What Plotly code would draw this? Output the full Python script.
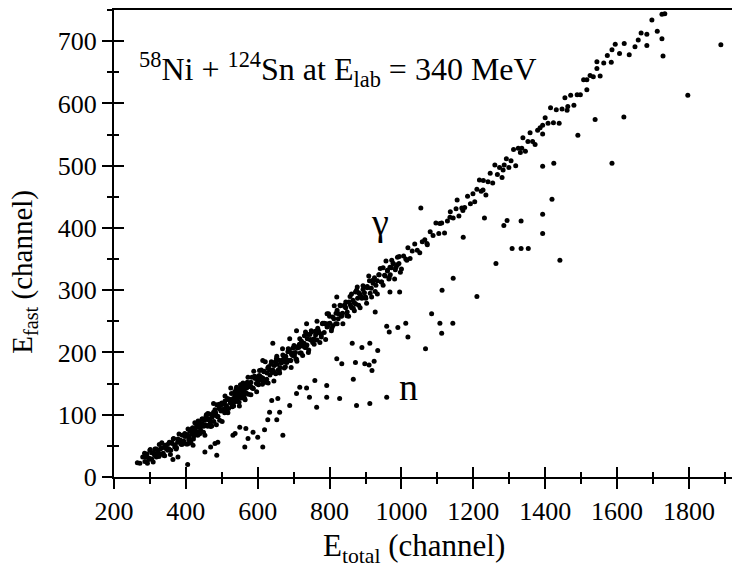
"""
plot.py
E_fast vs E_total scatter for 58Ni + 124Sn at 340 MeV (gamma / neutron separation).
"""

import plotly.graph_objects as go

# --- gamma band in segments ---
gx1 = [265, 272, 280, 286, 292, 298, 300, 305, 310, 314, 318, 322, 326, 330, 334, 338, 342, 346, 350, 354,
       358, 362, 366, 370, 374, 378, 382, 386, 390, 394, 398]
gy1 = [23, 22, 32, 25, 37, 30, 43, 29, 39, 45, 32, 41, 52, 37, 47, 35, 51, 45, 43, 56,
       43, 54, 62, 51, 47, 61, 58, 53, 67, 58, 65]

gx2 = [401, 404, 406, 409, 411, 414, 417, 419, 422, 425, 427, 430, 433, 435, 438, 441, 443, 446, 449, 452,
       454, 457, 460, 462, 465, 468, 470, 473, 476, 478, 481, 484, 486, 489, 492, 494, 497, 500, 503, 505,
       508, 511, 513, 516, 519, 521, 524, 527, 529, 532, 535, 537, 540, 543, 545, 548, 551, 553, 556, 559,
       562, 565, 568, 571, 574, 577, 580, 584, 588, 593]
gy2 = [53, 68, 77, 63, 74, 55, 70, 79, 66, 87, 73, 80, 67, 80, 87, 75, 81, 93, 72, 91,
       84, 100, 82, 92, 101, 89, 83, 99, 99, 89, 108, 99, 116, 97, 110, 91, 108, 119, 107, 118,
       103, 114, 110, 126, 110, 124, 119, 134, 113, 126, 134, 121, 141, 128, 137, 120, 140, 131, 127, 151,
       139, 144, 135, 152, 133, 148, 146, 160, 142, 158]

gx3 = [402, 408, 413, 418, 424, 429, 434, 439, 445, 451, 456, 461, 467, 472, 477, 483, 488, 493, 498,
       504, 509, 515, 520, 526, 531, 536, 542, 547, 552, 558, 563, 569, 575, 581, 586, 591, 596, 599]
gy3 = [68, 60, 57, 78, 75, 71, 90, 70, 86, 82, 97, 82, 93, 82, 104, 103, 97, 117, 106,
       107, 122, 105, 124, 122, 115, 137, 124, 134, 148, 135, 127, 149, 145, 152, 143, 162, 150, 158]

gx4 = [602, 606, 610, 614, 618, 622, 626, 630, 634, 638, 642, 646, 650, 654, 658, 662, 666, 670, 674, 678,
       682, 686, 690, 694, 698, 702, 706, 710, 714, 718, 722, 726, 730, 734, 738, 742, 746, 750, 755, 760,
       765, 770, 775, 780, 785, 790, 795, 800, 806, 812, 818, 824, 830, 836, 842, 848, 854, 860, 866, 872,
       878, 884, 890, 896]
gy4 = [148, 162, 172, 159, 170, 152, 167, 177, 164, 185, 172, 179, 166, 181, 188, 176, 183, 196, 175, 194,
       188, 205, 187, 197, 207, 195, 190, 207, 208, 199, 218, 210, 227, 208, 222, 204, 221, 233, 221, 234,
       220, 232, 230, 246, 232, 246, 243, 258, 239, 254, 263, 254, 275, 263, 274, 259, 281, 274, 271, 297,
       287, 294, 287, 305]

gx5 = [604, 612, 620, 628, 636, 644, 652, 660, 668, 676, 684, 692, 700, 708, 716, 724, 732, 740, 748, 757,
       767, 777, 787, 797, 809, 821, 833, 845, 857, 869, 881, 893]
gy5 = [163, 155, 153, 175, 172, 170, 190, 171, 188, 185, 201, 187, 199, 189, 213, 213, 208, 229, 220, 222,
       239, 225, 246, 246, 243, 268, 258, 272, 290, 280, 276, 301]

gx6 = [900, 905, 911, 916, 922, 927, 933, 938, 944, 949, 955, 961, 966, 972, 977, 983, 989, 994, 1000, 1006,
       1012, 1018, 1024, 1030, 1037, 1044, 1051, 1058, 1065, 1072, 1080, 1088, 1096, 1104, 1112, 1120, 1128,
       1136, 1144, 1152, 1160, 1168, 1176, 1184, 1192, 1199]
gy6 = [289, 304, 315, 303, 316, 298, 315, 325, 313, 336, 323, 332, 320, 336, 343, 333, 341, 354, 334, 355,
       350, 368, 351, 363, 374, 364, 360, 378, 381, 373, 394, 388, 408, 391, 408, 392, 411,
       426, 416, 431, 419, 432, 433, 451, 439, 455]

gx7 = [1204, 1210, 1217, 1222, 1228, 1235, 1241, 1247, 1254, 1260, 1267, 1273, 1280, 1286, 1292, 1299, 1305,
       1312, 1318, 1325, 1331, 1338, 1345, 1352, 1358, 1365, 1372, 1379, 1386, 1393, 1400, 1408, 1415, 1423,
       1431, 1439, 1447, 1455, 1463, 1471, 1480, 1489, 1498, 1507, 1516, 1525, 1534, 1544, 1553, 1563, 1573,
       1584, 1595, 1607, 1620, 1634, 1650, 1667, 1683, 1697, 1712, 1725, 1733]
gy7 = [442, 462, 477, 459, 476, 453, 474, 488, 472, 501, 486, 497, 481, 501, 511, 497, 508,
       526, 500, 528, 521, 545, 523, 539, 553, 539, 534, 557, 561, 551, 577, 568, 593, 569,
       590, 568, 591, 609, 595, 613, 597, 614, 614, 638, 622, 645, 643, 667, 644, 665, 677,
       666, 695, 680, 696, 678, 691, 713, 711, 734, 716, 743, 744]

gx8 = [1659, 1725, 1683, 1586, 1544, 1516, 1461, 1393, 1335, 1283, 1227, 1155, 1171, 1135, 1107, 1071, 1015,
       968, 921, 875, 1054, 642, 689, 614, 820, 842, 793, 736, 708]
gy8 = [702, 704, 693, 686, 656, 638, 589, 565, 528, 493, 461, 445, 428, 417, 407, 375, 348,
       337, 316, 300, 432, 215, 222, 187, 289, 276, 262, 246, 235]

# edges of the dense part of the band (280-1000)
gx9 = [285, 293, 301, 309, 317, 325, 333, 341, 349, 357, 365, 373, 381, 389, 397, 405, 413, 421, 429, 437,
       445, 453, 461, 469, 477, 485, 493, 501, 509, 517, 525, 533, 541, 549, 557, 565, 573, 581, 589, 597,
       605, 613, 621, 629, 637, 645, 653, 661, 669, 677, 685, 693, 701, 709, 717, 725, 733, 741, 749, 757,
       765, 773, 781, 789, 797, 805, 813, 821, 829, 837, 845, 853, 861, 869, 877, 885, 893, 901, 909, 917,
       925, 933, 941, 949, 957, 965, 973, 981, 989, 997]
gy9 = [38, 22, 44, 24, 45, 33, 55, 34, 52, 36, 61, 45, 69, 52, 70, 53, 75, 61, 85, 69,
       93, 67, 102, 81, 118, 84, 115, 89, 130, 103, 143, 114, 144, 114, 148, 124, 160, 132, 170, 137,
       171, 149, 185, 151, 181, 154, 194, 167, 206, 177, 206, 176, 211, 186, 222, 195, 233, 200, 235, 213,
       250, 216, 247, 221, 262, 235, 275, 246, 276, 246, 281, 258, 294, 267, 305, 272, 307, 287, 323, 289,
       320, 294, 335, 308, 347, 318, 348, 318, 353, 329]

# core of the dense part of the band
gx10 = [289, 297, 305, 313, 321, 329, 337, 345, 353, 361, 369, 377, 385, 393, 401, 409, 417, 425, 433, 441,
        449, 457, 465, 473, 481, 489, 497, 505, 513, 521, 529, 537, 545, 553, 561, 569, 577, 585, 593, 601,
        609, 617, 625, 633, 641, 649, 657, 665, 673, 681, 689, 697, 705, 713, 721, 729, 737, 745, 753, 761,
        769, 777, 785, 793, 801, 809, 817, 825, 833, 841, 849, 857, 865, 873, 881, 889, 897, 905, 913, 921,
        929, 937, 945, 953, 961, 969, 977, 985, 993]
gy10 = [32, 28, 39, 35, 38, 45, 38, 47, 45, 55, 48, 56, 59, 56, 67, 65, 70, 77, 72, 82,
        82, 96, 84, 96, 103, 97, 115, 109, 115, 125, 114, 130, 127, 143, 131, 143, 149, 143, 161, 154,
        160, 169, 157, 172, 168, 185, 172, 184, 190, 184, 201, 195, 200, 210, 199, 215, 212, 229, 216, 228,
        235, 229, 247, 241, 247, 257, 246, 262, 259, 276, 265, 277, 284, 278, 296, 290, 296, 306, 295, 311,
        308, 325, 313, 324, 331, 325, 343, 337, 343]

# --- neutron branch (below the gamma band) ---
nx = [364, 378, 405, 420, 453, 469, 481, 486, 489, 531, 537, 550, 567, 564, 573, 587, 600, 614, 619, 628,
      633, 653, 661, 670, 639, 656, 689, 708, 717, 736, 744, 759, 764, 792, 792, 828, 875, 866, 912, 959,
      820, 834, 872, 898, 910, 924, 918, 863, 890, 912, 934, 1067, 959, 966, 990, 1012, 1018, 1107, 1112, 1143,
      862, 903, 927, 968, 995, 1113, 1144, 1210, 1263, 1308, 1333, 1353, 1294, 1285, 1231, 1172, 1333, 1393,
      1393, 1419, 1441, 1424, 1393, 1586, 1619, 1797, 1889, 1539, 1491, 1728, 1084]
ny = [28, 32, 20, 51, 40, 48, 54, 35, 56, 67, 70, 80, 78, 48, 62, 72, 64, 48, 76, 92,
      104, 92, 104, 67, 123, 126, 115, 134, 144, 143, 128, 155, 112, 147, 128, 126, 115, 157, 118, 128,
      190, 182, 184, 182, 180, 186, 171, 215, 208, 215, 203, 206, 242, 233, 240, 247, 225, 247, 231, 247,
      272, 279, 265, 297, 297, 300, 319, 290, 343, 367, 367, 367, 412, 404, 416, 385, 411, 391,
      422, 446, 348, 504, 499, 504, 578, 613, 694, 574, 549, 676, 262]

gamma_x = gx1 + gx2 + gx3 + gx4 + gx5 + gx6 + gx7 + gx8 + gx9 + gx10
gamma_y = gy1 + gy2 + gy3 + gy4 + gy5 + gy6 + gy7 + gy8 + gy9 + gy10

X_RANGE = [200, 1920]
Y_RANGE = [0, 750]
FONT = "Liberation Serif, Times New Roman, Times, serif"

dot = dict(color="black", size=5, line=dict(width=0))

fig = go.Figure()
fig.add_trace(go.Scatter(x=gamma_x, y=gamma_y, mode="markers", marker=dot,
                         xaxis="x", yaxis="y", showlegend=False))
fig.add_trace(go.Scatter(x=nx, y=ny, mode="markers", marker=dot,
                         xaxis="x2", yaxis="y2", showlegend=False))

# main axes carry the labels and the outside half of each tick,
# the overlaid axes add the inside half so the ticks cross the line
common_x = dict(range=X_RANGE, dtick=200, tick0=200, showgrid=False, zeroline=False,
                linecolor="black", linewidth=2, tickcolor="black", tickwidth=2, ticklen=10)
common_y = dict(range=Y_RANGE, dtick=100, tick0=0, showgrid=False, zeroline=False,
                linecolor="black", linewidth=2, tickcolor="black", tickwidth=2, ticklen=10)

fig.update_layout(
    width=732, height=570,
    margin=dict(l=114, r=0, t=10, b=93),
    plot_bgcolor="white", paper_bgcolor="white",
    font=dict(family=FONT, color="black", size=26),
    xaxis=dict(**common_x, ticks="outside", showline=True, mirror=True,
               minor=dict(dtick=100, ticks="outside", ticklen=5, tickcolor="black", tickwidth=1.5),
               tickfont=dict(family=FONT, size=26)),
    yaxis=dict(**common_y, ticks="outside", showline=True,
               minor=dict(dtick=50, ticks="outside", ticklen=5, tickcolor="black", tickwidth=1.5),
               tickfont=dict(family=FONT, size=26)),
    xaxis2=dict(**common_x, ticks="inside", overlaying="x", anchor="y2", showticklabels=False,
                showline=False,
                minor=dict(dtick=100, ticks="inside", ticklen=5, tickcolor="black", tickwidth=1.5)),
    yaxis2=dict(**common_y, ticks="inside", overlaying="y", anchor="x2", showticklabels=False,
                showline=False,
                minor=dict(dtick=50, ticks="inside", ticklen=5, tickcolor="black", tickwidth=1.5)),
)

fig.add_annotation(x=263, y=654, xref="x", yref="y", xanchor="left", yanchor="middle",
                   text="<sup>58</sup>Ni + <sup>124</sup>Sn at E<sub>lab</sub> = 340 MeV",
                   showarrow=False, font=dict(family=FONT, size=32))
fig.add_annotation(x=940, y=410, xref="x", yref="y", text="γ", showarrow=False,
                   font=dict(family=FONT, size=38))
fig.add_annotation(x=1020, y=145, xref="x", yref="y", text="n", showarrow=False,
                   font=dict(family=FONT, size=38))
fig.add_annotation(x=0.486, y=-0.152, xref="paper", yref="paper", xanchor="center", yanchor="middle",
                   text="E<sub>total</sub> (channel)", showarrow=False, font=dict(family=FONT, size=31))
fig.add_annotation(x=-0.146, y=0.439, xref="paper", yref="paper", xanchor="center", yanchor="middle",
                   text="E<sub>fast</sub> (channel)", textangle=-90, showarrow=False,
                   font=dict(family=FONT, size=29))

# the page's default 8px body margin would push the 732x570 figure past the window
fig.write_html("out.html", config={"displayModeBar": False},
               post_script="document.body.style.margin = '0';")
